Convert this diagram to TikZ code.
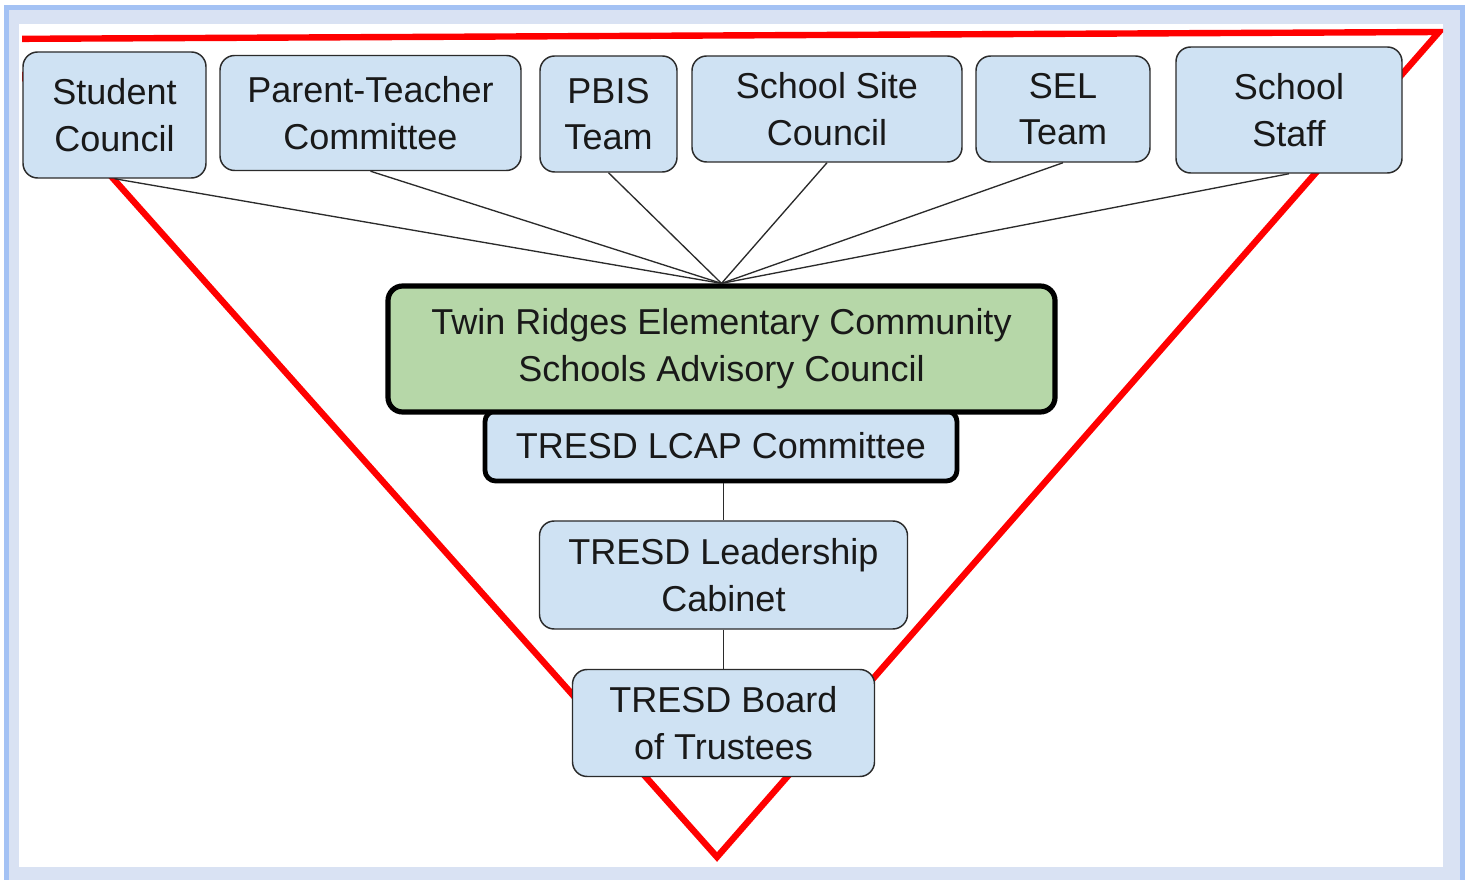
\documentclass[tikz,border=0pt]{standalone}
\usepackage{fontspec}
\setmainfont{Liberation Sans}
\definecolor{frameblue}{HTML}{A4C2F4}
\definecolor{framelight}{HTML}{D9E2F3}
\definecolor{boxblue}{HTML}{CFE2F3}
\definecolor{boxgreen}{HTML}{B6D7A8}
\definecolor{edge}{HTML}{2B2B2B}
\begin{document}
\begin{tikzpicture}[x=0.75pt,y=-0.75pt,
  box/.style={draw=edge, line width=1.1pt, fill=boxblue, rounded corners=11pt,
    inner sep=0pt, align=center, text=black!90,
    font=\fontsize{27}{35}\selectfont},
  heavybox/.style={box, draw=black, line width=3.6pt},
  link/.style={draw=edge, line width=1pt},
  redline/.style={draw=red, line width=4.8pt, line join=miter}]
\useasboundingbox (0,0) rectangle (1468,880);
% page frame
\fill[white] (0,0) rectangle (1468,880);
\fill[frameblue] (4,5) rectangle (1465,880);
\fill[framelight] (9,10) rectangle (1460,880);
\fill[white] (19,24) rectangle (1443,867);

% inverted red triangle behind everything
\begin{scope}
  \clip (22,24) rectangle (1443,867);
  \coordinate (tl) at (-11,39);
  \coordinate (tr) at (1439,32);
  \coordinate (bt) at (717,857);
  \draw[redline] (tl) -- (tr) -- (bt) -- cycle;
\end{scope}

% top row of groups
\node[box, minimum width=183*0.75pt, minimum height=126*0.75pt] (sc) at (114.5,115) {Student\\Council};
\node[box, minimum width=301*0.75pt, minimum height=115*0.75pt] (ptc) at (370.5,113) {Parent-Teacher\\Committee};
\node[box, minimum width=137*0.75pt, minimum height=116*0.75pt] (pbis) at (608.5,114) {PBIS\\Team};
\node[box, minimum width=270*0.75pt, minimum height=106*0.75pt] (ssc) at (827,109) {School Site\\Council};
\node[box, minimum width=174*0.75pt, minimum height=106*0.75pt] (sel) at (1063,109) {SEL\\Team};
\node[box, minimum width=226*0.75pt, minimum height=126*0.75pt] (staff) at (1289,110) {School\\Staff};

% council and committees below
\node[heavybox, fill=boxblue, rounded corners=8pt, minimum width=472*0.75pt, minimum height=70*0.75pt] (lcap) at (721,446) {TRESD LCAP Committee};
\node[heavybox, fill=boxgreen, line width=3.9pt, minimum width=667*0.75pt, minimum height=126*0.75pt] (cs) at (721.5,349) {Twin Ridges Elementary Community\\Schools Advisory Council};
\node[box, minimum width=368*0.75pt, minimum height=108*0.75pt] (cab) at (723.5,575) {TRESD Leadership\\Cabinet};
\node[box, minimum width=302*0.75pt, minimum height=107*0.75pt] (board) at (723.5,723) {TRESD Board\\of Trustees};

% connectors
\foreach \g in {sc,ptc,pbis,ssc,sel,staff}
  \draw[link] (\g.south) -- (cs.north);
\draw[link] (lcap.south -| cab.north) -- (cab.north);
\draw[link] (cab.south) -- (board.north);
\end{tikzpicture}
\end{document}
